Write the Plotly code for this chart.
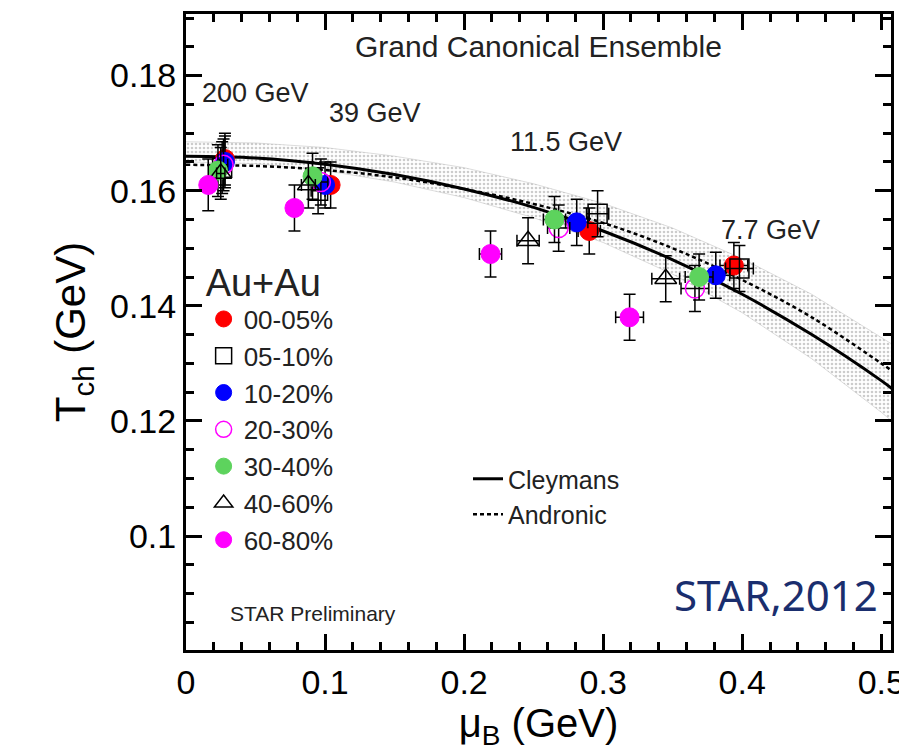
import plotly.graph_objects as go

cent = ["00-05%", "05-10%", "10-20%", "20-30%", "30-40%", "40-60%", "60-80%"]
# mu_B values per centrality, at 200, 39, 11.5, 7.7 GeV
mu = {
 "00-05%": [0.028, 0.104, 0.290, 0.394],
 "05-10%": [0.026, 0.095, 0.296, 0.398],
 "10-20%": [0.028, 0.100, 0.281, 0.381],
 "20-30%": [0.027, 0.097, 0.268, 0.366],
 "30-40%": [0.023, 0.091, 0.265, 0.369],
 "40-60%": [0.025, 0.088, 0.246, 0.345],
 "60-80%": [0.016, 0.078, 0.219, 0.319],
}
T = {
 "00-05%": [0.1655, 0.1610, 0.1530, 0.1470],
 "05-10%": [0.1640, 0.1600, 0.1560, 0.1465],
 "10-20%": [0.1650, 0.1610, 0.1545, 0.1453],
 "20-30%": [0.1645, 0.1615, 0.1535, 0.1430],
 "30-40%": [0.1635, 0.1625, 0.1550, 0.1450],
 "40-60%": [0.1630, 0.1610, 0.1513, 0.1447],
 "60-80%": [0.1610, 0.1570, 0.1490, 0.1380],
}
T_err = [0.0045, 0.0040, 0.0040, 0.0040]
mu_err = [0.003, 0.005, 0.008, 0.010]

curve_mu = [0.0, 0.05, 0.1, 0.15, 0.2, 0.25, 0.3, 0.35, 0.4, 0.45, 0.5, 0.51]
cleymans = [0.1660, 0.1657, 0.1646, 0.1628, 0.1603, 0.1571, 0.1530, 0.1480, 0.1420, 0.1350, 0.1270, 0.1252]
andronic = [0.1645, 0.1643, 0.1636, 0.1623, 0.1603, 0.1577, 0.1544, 0.1500, 0.1445, 0.1380, 0.1300, 0.1283]
band_hi = [0.1685, 0.1683, 0.1675, 0.1660, 0.1640, 0.1612, 0.1578, 0.1535, 0.1482, 0.1420, 0.1345, 0.1330]
band_lo = [0.1650, 0.1647, 0.1635, 0.1615, 0.1588, 0.1553, 0.1510, 0.1455, 0.1388, 0.1308, 0.1215, 0.1195]

styles = {
 "00-05%": dict(symbol="circle", color="red", line=dict(color="red", width=1)),
 "05-10%": dict(symbol="square-open", color="black", line=dict(color="black", width=1.5)),
 "10-20%": dict(symbol="circle", color="blue", line=dict(color="blue", width=1)),
 "20-30%": dict(symbol="circle-open", color="magenta", line=dict(color="magenta", width=1.5)),
 "30-40%": dict(symbol="circle", color="#5dd35d", line=dict(color="#5dd35d", width=1)),
 "40-60%": dict(symbol="triangle-up-open", color="black", line=dict(color="black", width=1.5)),
 "60-80%": dict(symbol="circle", color="magenta", line=dict(color="magenta", width=1)),
}

fig = go.Figure()
fig.add_trace(go.Scatter(x=curve_mu + curve_mu[::-1], y=band_hi + band_lo[::-1], fill="toself",
    fillcolor="rgba(0,0,0,0)", fillpattern=dict(shape=".", fgcolor="#999999", size=4, solidity=0.35),
    line=dict(width=0.5, color="#bbbbbb"), showlegend=False, hoverinfo="skip"))
fig.add_trace(go.Scatter(x=curve_mu, y=cleymans, mode="lines", line=dict(color="black", width=3, shape="spline"),
    name="Cleymans", legend="legend2"))
fig.add_trace(go.Scatter(x=curve_mu, y=andronic, mode="lines", line=dict(color="black", width=2.5, dash="4px,3px", shape="spline"),
    name="Andronic", legend="legend2"))

for c in cent:
    s = styles[c]
    fig.add_trace(go.Scatter(x=mu[c], y=T[c], mode="markers", name=c,
        marker=dict(size=19, symbol=s["symbol"], color=s["color"], line=s["line"]),
        error_y=dict(type="data", array=T_err, color="black", thickness=1.5, width=6),
        error_x=dict(type="data", array=mu_err, color="black", thickness=1.5, width=6)))

fnt = "Liberation Sans, Arial, sans-serif"
for txt, x, y in [("200 GeV", 0.05, 0.1770), ("39 GeV", 0.136, 0.1735), ("11.5 GeV", 0.273, 0.1685), ("7.7 GeV", 0.42, 0.1532)]:
    fig.add_annotation(x=x, y=y, text=txt, showarrow=False, font=dict(size=27, color="#222", family=fnt))
fig.add_annotation(x=0.5, y=1.0, xref="paper", yref="paper", yanchor="top", text="Grand Canonical Ensemble",
    showarrow=False, font=dict(size=30, color="#222", family=fnt), yshift=-14)
fig.add_annotation(x=0.03, y=0.0865, text="STAR Preliminary", showarrow=False, xanchor="left",
    font=dict(size=21, color="#222", family=fnt))
fig.add_annotation(x=0.985, y=0.04, xref="paper", yref="paper", xanchor="right", yanchor="bottom",
    text="STAR,2012", showarrow=False, font=dict(size=42, color="#1a2e6e", family="Noto Sans"))

fig.update_layout(
    width=900, height=745, plot_bgcolor="white", paper_bgcolor="white",
    margin=dict(l=178, r=17, t=3, b=103),
    font=dict(family=fnt, color="black"),
    legend=dict(x=0.025, y=0.635, xanchor="left", yanchor="top", bgcolor="rgba(0,0,0,0)",
        title=dict(text="Au+Au", font=dict(size=38, family=fnt)), font=dict(size=26, family=fnt, color="#222"),
        tracegroupgap=0, itemwidth=30),
    legend2=dict(x=0.4, y=0.305, xanchor="left", yanchor="top", bgcolor="rgba(0,0,0,0)",
        font=dict(size=25, family=fnt, color="#222")),
    xaxis=dict(range=[0, 0.507], tickvals=[0, 0.1, 0.2, 0.3, 0.4, 0.5], ticktext=["0", "0.1", "0.2", "0.3", "0.4", "0.5"],
        ticks="inside", ticklen=16, tickwidth=3, tickcolor="black",
        minor=dict(ticks="inside", ticklen=8, dtick=0.02, tickwidth=2.5, tickcolor="black"),
        showline=True, linewidth=3, linecolor="black", mirror="allticks", showgrid=False, zeroline=False,
        tickfont=dict(size=34), title=dict(text="μ<sub>B</sub> (GeV)", font=dict(size=40), standoff=5)),
    yaxis=dict(range=[0.0802, 0.1907], tickvals=[0.1, 0.12, 0.14, 0.16, 0.18], ticktext=["0.1", "0.12", "0.14", "0.16", "0.18"],
        ticks="inside", ticklen=16, tickwidth=3, tickcolor="black",
        minor=dict(ticks="inside", ticklen=8, dtick=0.005, tickwidth=2.5, tickcolor="black"),
        showline=True, linewidth=3, linecolor="black", mirror="allticks", showgrid=False, zeroline=False,
        tickfont=dict(size=34), title=dict(text="T<sub>ch</sub> (GeV)", font=dict(size=42), standoff=12)),
)
fig.write_html("out.html")
